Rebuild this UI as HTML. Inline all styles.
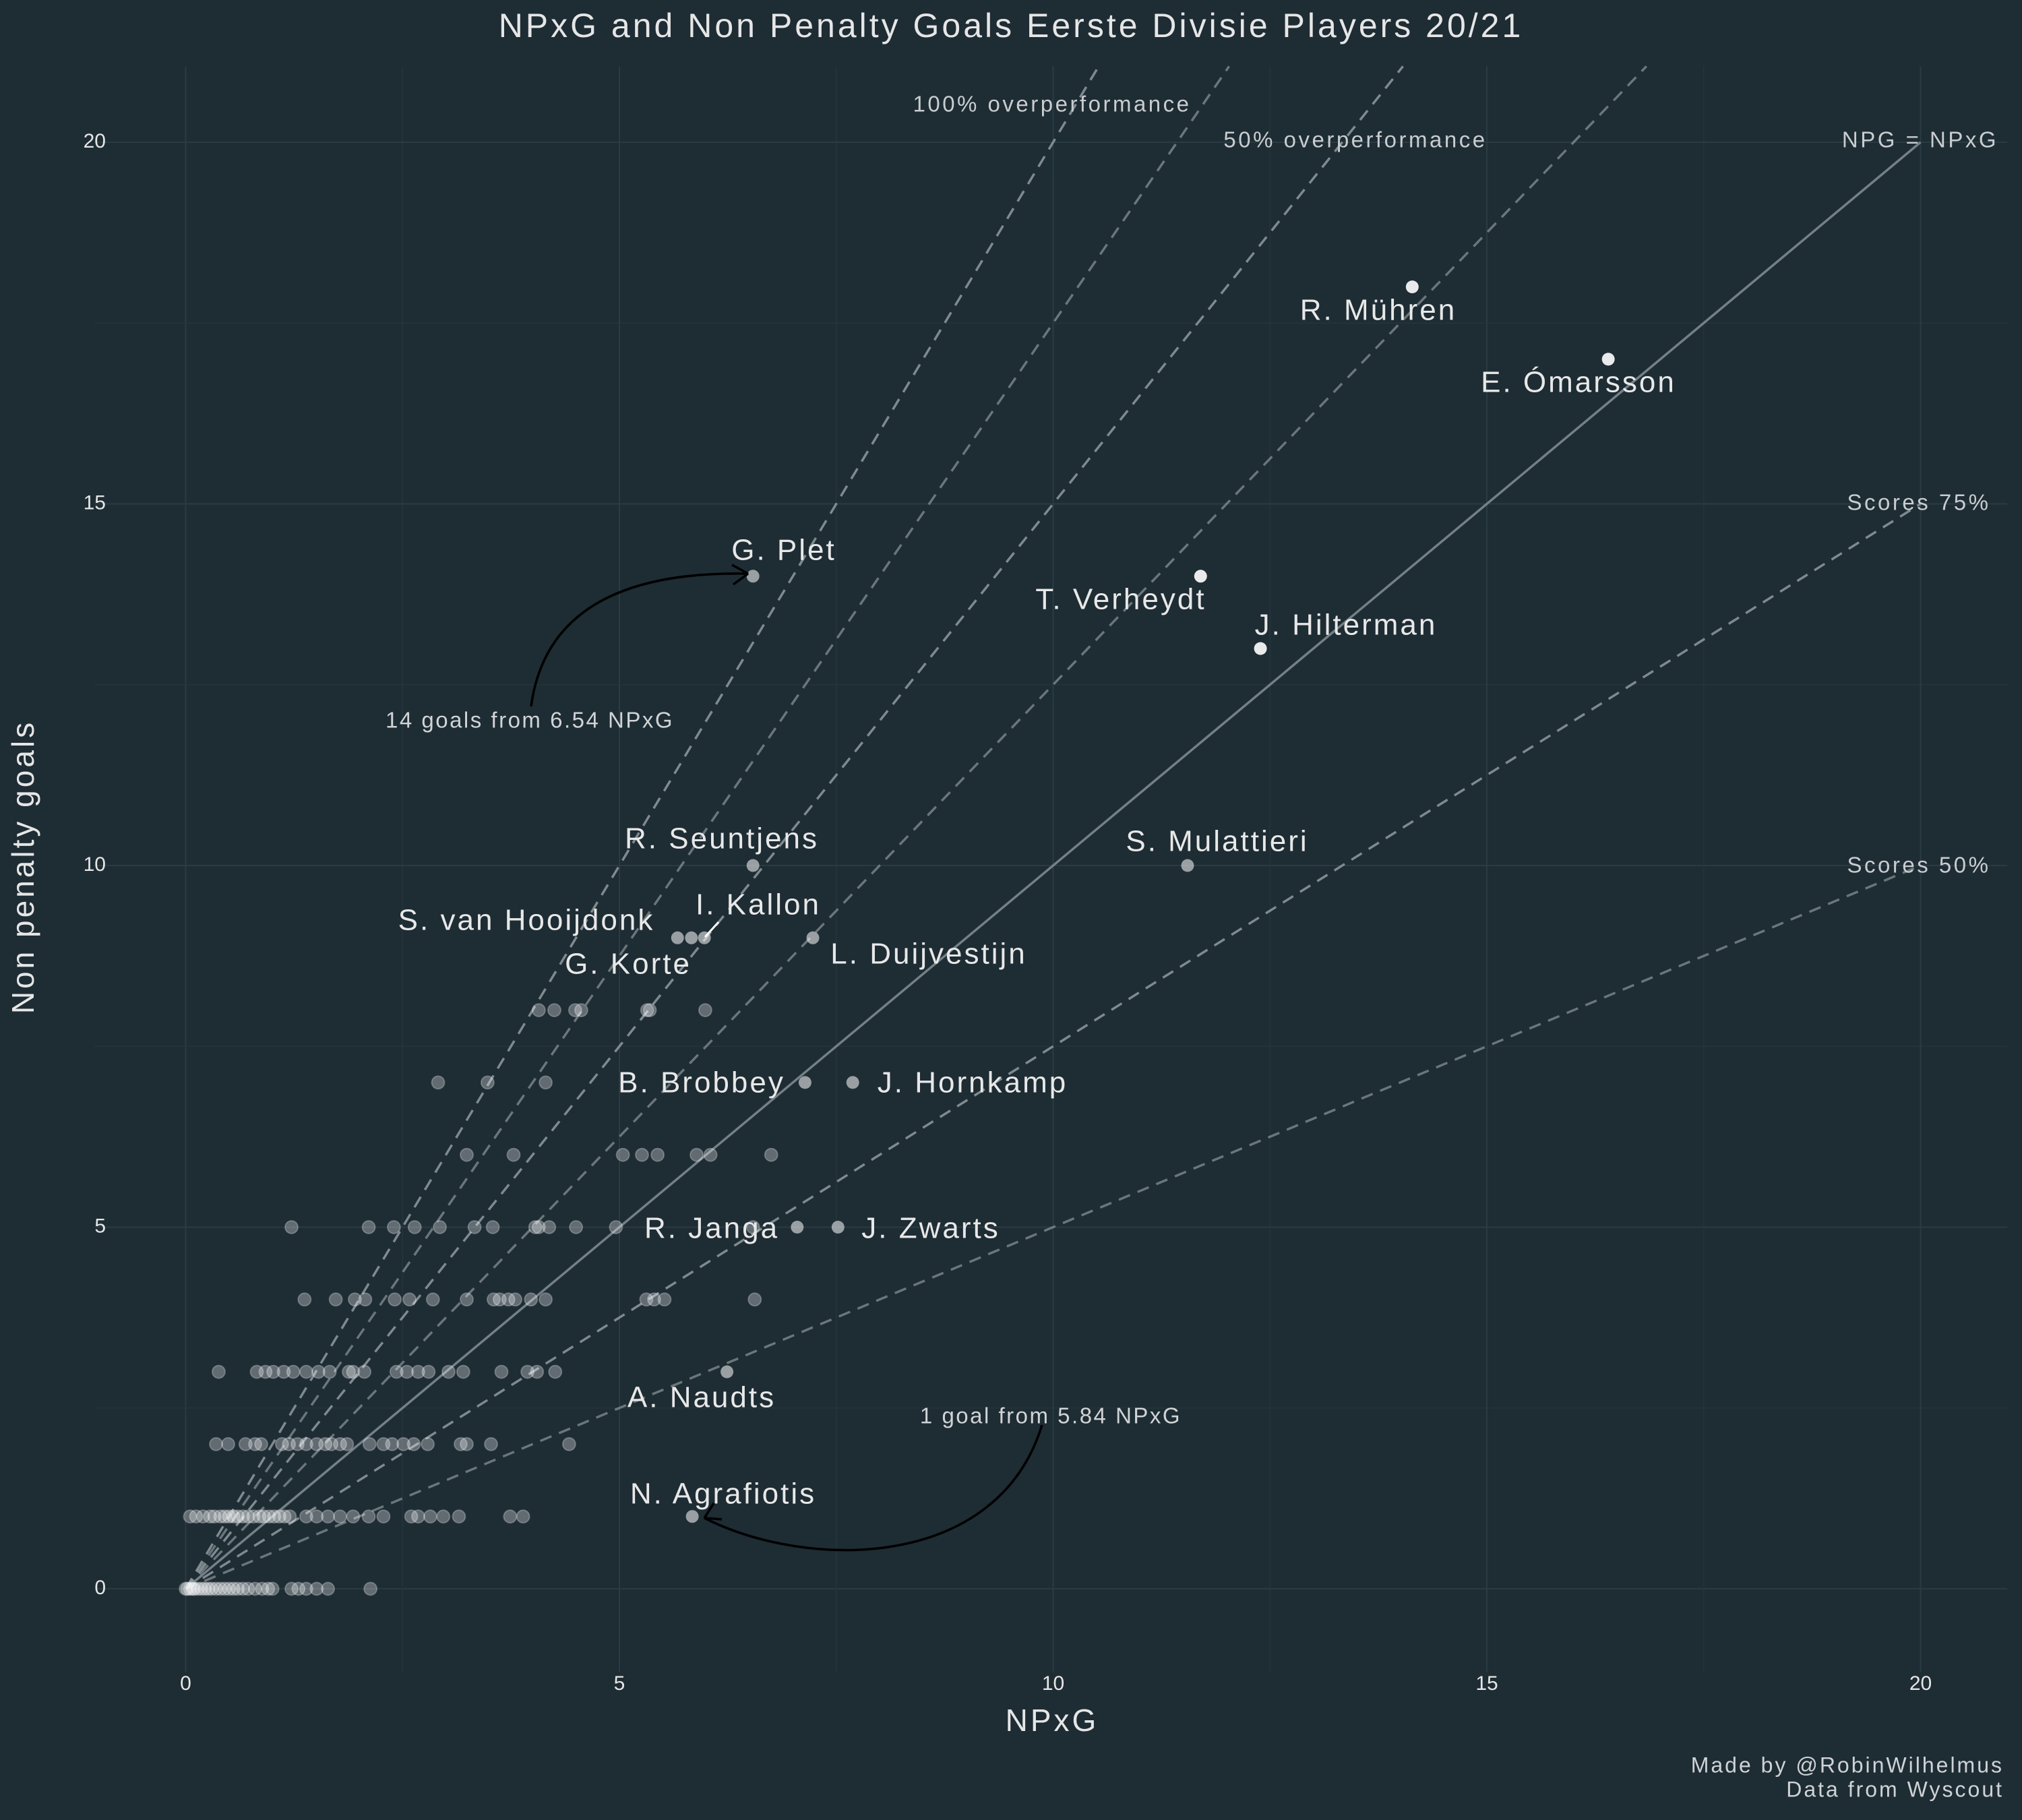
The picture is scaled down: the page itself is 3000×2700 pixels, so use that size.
<!DOCTYPE html>
<html><head><meta charset="utf-8"><style>
html,body{margin:0;padding:0;background:#1e2c34;}
svg{display:block;font-family:"Liberation Sans",sans-serif;}
</style></head><body>
<svg id="chart" width="3000" height="2700" viewBox="0 0 3000 2700">
<rect x="0" y="0" width="3000" height="2700" fill="#1e2c34"/>
<g id="grid"></g>
<g id="refs"></g>
<g id="dots"></g>
<g id="labels"></g>
<g id="axes"></g>
<text x="1500" y="42" text-anchor="middle" dominant-baseline="middle" font-size="50" letter-spacing="4" fill="#e6e6e6">NPxG and Non Penalty Goals Eerste Divisie Players 20/21</text>
<text x="1561" y="2556" text-anchor="middle" dominant-baseline="middle" font-size="46" letter-spacing="4" fill="#e6e6e6">NPxG</text>
<text x="38" y="1286" text-anchor="middle" dominant-baseline="middle" font-size="46" letter-spacing="4" fill="#e6e6e6" transform="rotate(-90 38 1286)">Non penalty goals</text>
<text x="2973" y="2621" text-anchor="end" dominant-baseline="middle" font-size="32" letter-spacing="3" fill="#cfd3d5">Made by @RobinWilhelmus</text>
<text x="2973" y="2657" text-anchor="end" dominant-baseline="middle" font-size="32" letter-spacing="3" fill="#cfd3d5">Data from Wyscout</text>
<path d="M788 1048 Q815 845 1110 851" fill="none" stroke="#000" stroke-width="3.5"/>
<path d="M1110 851 l-24 -13 M1110 851 l-22 16" fill="none" stroke="#000" stroke-width="3.5"/>
<path d="M1546 2114 C1480 2330 1200 2330 1045 2252" fill="none" stroke="#000" stroke-width="3.5"/>
<path d="M1045 2252 l14 -22 M1045 2252 l26 2" fill="none" stroke="#000" stroke-width="3.5"/>
<line x1="1046" y1="1390" x2="1066" y2="1368" stroke="#fff" stroke-width="3"/>
</svg>
<script>
const xTicks=[0,5,10,15,20];
const yTicks=[0,5,10,15,20];
const refSlopes=[2,1.75,1.5,1.25,1,0.75,0.5];
const refLabels=["100% overperformance","50% overperformance","NPG = NPxG","Scores 75%","Scores 50%"];
const row8=[4.07,4.25,4.49,4.56,5.32,5.35,5.99];
const row7=[2.91,3.48,4.15];
const row6=[3.24,3.78,5.04,5.26,5.44,5.89,6.05,6.75];
const row5=[1.22,2.11,2.40,2.64,2.93,3.33,3.54,4.03,4.07,4.19,4.50,4.96,6.54];
const row4=[1.37,1.73,1.95,2.07,2.41,2.58,2.85,3.24,3.55,3.62,3.72,3.80,3.98,4.15,5.31,5.40,5.52,6.56];
const row3=[0.38,0.82,0.92,1.01,1.13,1.24,1.39,1.53,1.66,1.88,1.93,2.06,2.43,2.55,2.68,2.80,3.03,3.20,3.64,3.94,4.05,4.26];
const row2=[0.35,0.49,0.69,0.80,0.87,1.11,1.19,1.29,1.39,1.51,1.61,1.68,1.78,1.86,2.12,2.28,2.38,2.51,2.63,2.79,3.17,3.24,3.52,4.42];
const row1=[0.05,0.12,0.2,0.28,0.33,0.4,0.45,0.5,0.55,0.6,0.66,0.72,0.78,0.85,0.9,0.96,1.02,1.08,1.14,1.2,1.39,1.51,1.64,1.78,1.93,2.11,2.28,2.60,2.68,2.82,2.97,3.15,3.74,3.89];
const row0=[0,0.02,0.05,0.08,0.1,0.14,0.18,0.22,0.26,0.3,0.35,0.4,0.45,0.5,0.55,0.6,0.66,0.72,0.8,0.88,0.95,1.0,1.22,1.3,1.39,1.51,1.64,2.13];
const players=["G. Plet","R. Mühren","E. Ómarsson","T. Verheydt","J. Hilterman","R. Seuntjens","S. Mulattieri","I. Kallon","S. van Hooijdonk","G. Korte","L. Duijvestijn","B. Brobbey","J. Hornkamp","R. Janga","J. Zwarts","A. Naudts","N. Agrafiotis"];
const playerX=[6.54,14.14,16.4,11.7,12.39,6.54,11.55,5.98,5.83,5.67,7.23,7.14,7.69,7.05,7.52,6.24,5.84];
const playerY=[14,18,17,14,13,10,10,9,9,9,9,7,7,5,5,3,1];

const X=v=>275.5+v*128.7, Y=v=>2357-v*107.3;
const NS="http://www.w3.org/2000/svg";
function mk(tag,attrs,parent){const e=document.createElementNS(NS,tag);for(const k in attrs)e.setAttribute(k,attrs[k]);parent.appendChild(e);return e;}
const grid=document.getElementById('grid'),refs=document.getElementById('refs'),dots=document.getElementById('dots'),labels=document.getElementById('labels'),axes=document.getElementById('axes');
const xmin=-1.05,xmax=21.0,ymin=-1.15,ymax=21.05;
for(let v=0;v<=20;v+=2.5){
  const major=v%5===0;
  const l=mk('line',{x1:X(v),x2:X(v),y1:Y(ymin),y2:Y(ymax),stroke:major?'#2b3b43':'#25343c','stroke-width':major?2:1.5},grid);
  
  
  const h=mk('line',{x1:X(xmin),x2:X(xmax),y1:Y(v),y2:Y(v),stroke:major?'#2b3b43':'#25343c','stroke-width':major?2:1.5},grid);
  
  
}
xTicks.forEach(t=>{const e=mk('text',{x:X(t),y:2499,'text-anchor':'middle','dominant-baseline':'middle','font-size':30,fill:'#e6e6e6'},axes);e.textContent=t;
  
  });
yTicks.forEach(t=>{const e=mk('text',{x:157,y:Y(t),'text-anchor':'end','dominant-baseline':'middle','font-size':30,fill:'#e6e6e6'},axes);e.textContent=t;
  
  });
refSlopes.forEach(s=>{
  const xe=Math.min(20,ymax/s);
  const solid=s===1;
  const l=mk('line',{x1:X(0),y1:Y(0),x2:X(xe),y2:Y(xe*s),stroke:solid?'#7d8a8f':'#8a9598','stroke-width':3.5,'stroke-dasharray':solid?'none':'18 12','stroke-opacity':(s===1.75||s===1.25||s===0.5)?0.7:0.9},refs);
  
  
});
const refPos=[[1561,157],[2011,210],[2849,210],[2847,748],[2847,1286]];
refLabels.forEach((t,i)=>{const e=mk('text',{x:refPos[i][0],y:refPos[i][1],'text-anchor':'middle','dominant-baseline':'middle','font-size':33,'letter-spacing':3.5,fill:'#c9cdcf'},labels);e.textContent=t;
  
  });
const rows=[row0,row1,row2,row3,row4,row5,row6,row7,row8];
rows.forEach((r,yi)=>r.forEach(x=>{
  const c=mk('circle',{cx:X(x),cy:Y(yi),r:9.5,fill:'#ffffff','fill-opacity':0.3,stroke:'#ffffff','stroke-opacity':0.25,'stroke-width':2},dots);
  
  
}));
players.forEach((p,i)=>{
  const bright=playerY[i]>=13 && playerX[i]>10;
  const c=mk('circle',{cx:X(playerX[i]),cy:Y(playerY[i]),r:9.5,fill:'#ffffff','fill-opacity':bright?0.9:0.55},dots);
  
  
});
const labPos=[[1163,819],[2045,463],[2342,570],[1663,892],[1997,930],[1071,1247],[1806,1251],[1125,1345],[781,1368],[932,1433],[1378,1418],[1041,1609],[1443,1609],[1056,1825],[1381,1825],[1041,2076],[1073,2219]];
players.forEach((p,i)=>{const e=mk('text',{x:labPos[i][0],y:labPos[i][1],'text-anchor':'middle','dominant-baseline':'middle','font-size':44,'letter-spacing':3,fill:'#e8e8e8'},labels);e.textContent=p;
  
  });
const a1=mk('text',{x:786,y:1071,'text-anchor':'middle','dominant-baseline':'middle','font-size':33,'letter-spacing':2.5,fill:'#d0d4d6'},labels);a1.textContent="14 goals from 6.54 NPxG";


const a2=mk('text',{x:1559,y:2103,'text-anchor':'middle','dominant-baseline':'middle','font-size':33,'letter-spacing':2.5,fill:'#d0d4d6'},labels);a2.textContent="1 goal from 5.84 NPxG";


</script>
</body></html>
